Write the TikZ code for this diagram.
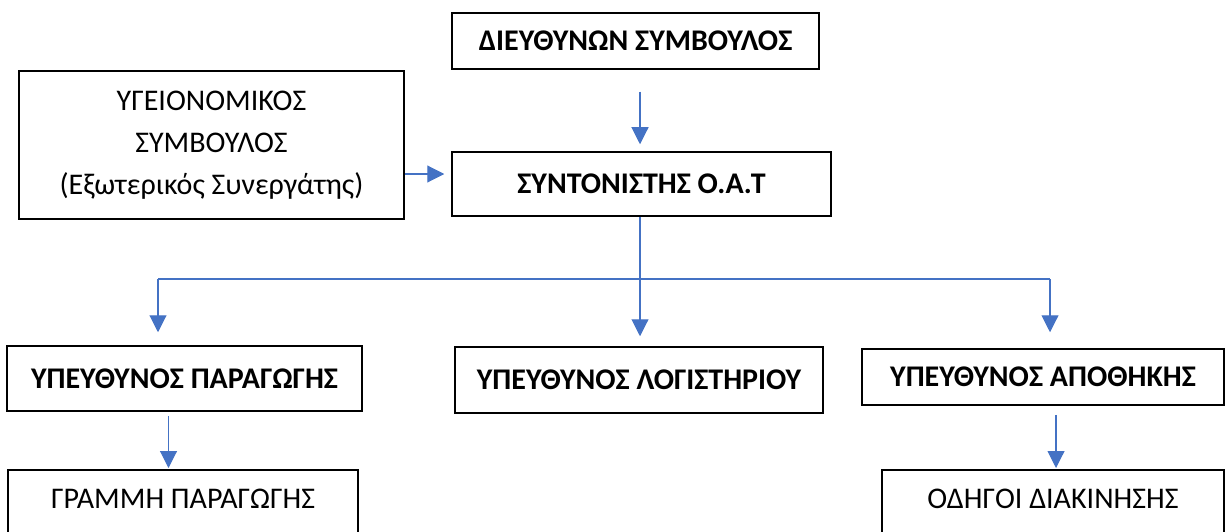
\documentclass[tikz,border=0pt]{standalone}
\usepackage{fontspec}
\setmainfont{Carlito}
\usetikzlibrary{arrows.meta}
\definecolor{arrblue}{HTML}{4472C4}
\tikzset{
	box/.style = {draw, line width = 1.5pt, inner sep = 0pt, align = center, font = \fontsize{30}{42}\selectfont},
	bbox/.style = {box, font = \fontsize{30}{42}\selectfont\bfseries},
	arr/.style = {arrblue, line width = 1.1pt, -{Triangle[width = 17pt, length = 17pt]}}
}
\begin{document}
	\begin{tikzpicture}[x = 1pt, y = -1pt]
		\useasboundingbox (0, 0) rectangle (1225, 532);
		\clip (0, 0) rectangle (1225, 532);
		\node[bbox, minimum width = 367pt, minimum height = 56pt] (dir) at (635.5, 41) {ΔΙΕΥΘΥΝΩΝ ΣΥΜΒΟΥΛΟΣ};
		\node[bbox, minimum width = 379pt, minimum height = 64pt] (synt) at (641.5, 184) {ΣΥΝΤΟΝΙΣΤΗΣ Ο.Α.Τ};
		\node[box, minimum width = 385pt, minimum height = 148pt] (ygei) at (211.5, 145) {ΥΓΕΙΟΝΟΜΙΚΟΣ\\ΣΥΜΒΟΥΛΟΣ\\(Εξωτερικός Συνεργάτης)};
		%%%%%%%%%
		\node[bbox, minimum width = 355pt, minimum height = 65pt] (parag) at (184.5, 378.5) {ΥΠΕΥΘΥΝΟΣ ΠΑΡΑΓΩΓΗΣ};
		\node[bbox, minimum width = 368pt, minimum height = 66pt] (logist) at (639, 380) {ΥΠΕΥΘΥΝΟΣ ΛΟΓΙΣΤΗΡΙΟΥ};
		\node[bbox, minimum width = 362pt, minimum height = 56pt] (apoth) at (1043, 377) {ΥΠΕΥΘΥΝΟΣ ΑΠΟΘΗΚΗΣ};
		%%%%%%%%%
		\node[box, anchor = north, minimum width = 350pt, inner ysep = 19pt, text height = 20pt, text depth = 60pt] (grammi) at (183, 469) {ΓΡΑΜΜΗ ΠΑΡΑΓΩΓΗΣ};
		\node[box, anchor = north, minimum width = 342pt, inner ysep = 19pt, text height = 20pt, text depth = 60pt] (odhg) at (1053, 469) {ΟΔΗΓΟΙ ΔΙΑΚΙΝΗΣΗΣ};
		%%%%%%%%%
		\coordinate (forkL) at (158, 279);
		\coordinate (forkR) at (1050, 279);
		\draw[arr, shorten <= 22pt, shorten >= 7pt] ([xshift = -1.5pt]synt.north |- dir.south) -- ([xshift = -1.5pt]synt.north);
		\draw[arr, shorten >= 7pt] ([yshift = -29pt]ygei.east) -- ([yshift = -29pt]ygei.east -| synt.west);
		\draw[arr, shorten >= 10pt] ([xshift = -1.5pt]synt.south) -- ([xshift = -1.5pt]synt.south |- logist.north);
		\draw[arrblue, line width = 1.1pt] (forkL) -- (forkR);
		\draw[arr, shorten >= 13pt] (forkL) -- (forkL |- parag.north);
		\draw[arr, shorten >= 16pt] (forkR) -- (forkR |- apoth.north);
		\draw[arr, shorten <= 4pt, shorten >= 1pt] ([xshift = -16pt]parag.south) -- ([xshift = -16pt]parag.south |- grammi.north);
		\draw[arr, shorten <= 9pt, shorten >= 1pt] ([xshift = 3pt]odhg.north |- apoth.south) -- ([xshift = 3pt]odhg.north);
	\end{tikzpicture}
\end{document}
